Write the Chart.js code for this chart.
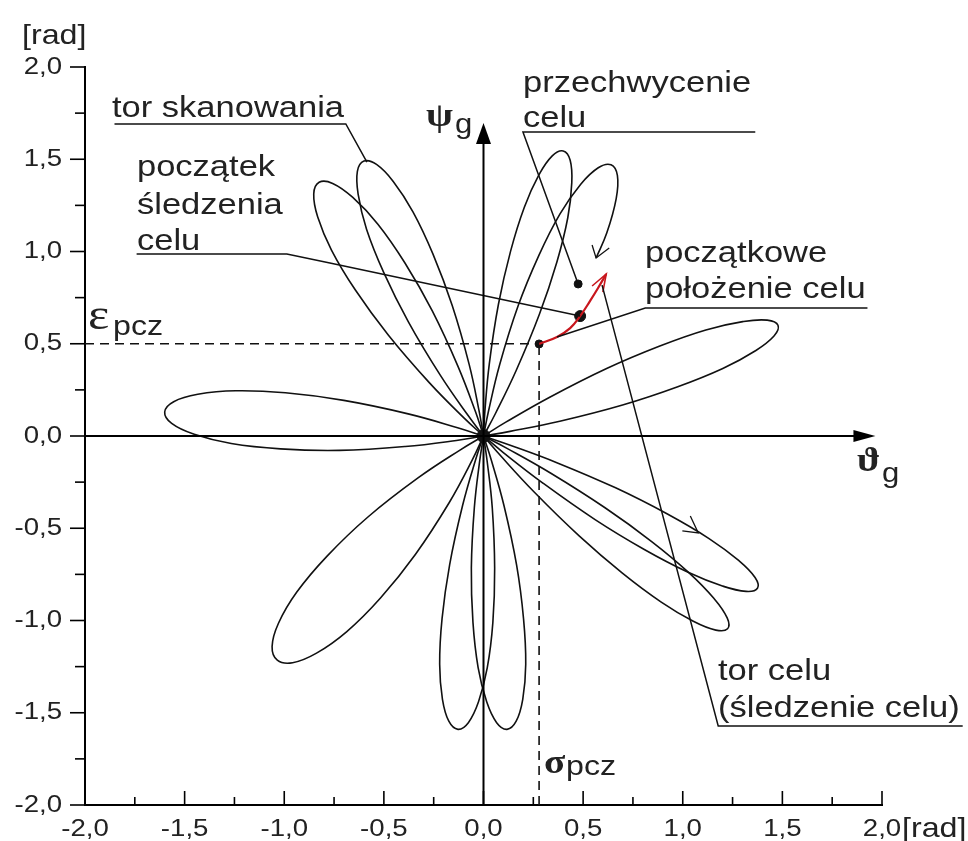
<!DOCTYPE html>
<html><head><meta charset="utf-8">
<script src="https://cdn.jsdelivr.net/npm/chart.js@4.4.1/dist/chart.umd.min.js"></script>
<style>html,body{margin:0;padding:0;background:#fff;overflow:hidden}canvas{display:block}</style>
</head><body>
<canvas id="c" width="968" height="841"></canvas>
<script>
// ---------- data (radians) ----------
const xTickLabels = ['-2,0','-1,5','-1,0','-0,5','0,0','0,5','1,0','1,5','2,0'];
const yTickLabels = ['-2,0','-1,5','-1,0','-0,5','0,0','0,5','1,0','1,5','2,0'];
const axisUnit = '[rad]';

// scanning trace (rosette petals); each loop starts and ends at the origin
const petalLeft = [[0,0],[-0.136,-0.024],[-0.393,-0.057],[-0.723,-0.078],[-1.019,-0.070],[-1.266,-0.041],[-1.452,0.009],[-1.565,0.068],[-1.600,0.130],[-1.555,0.186],[-1.434,0.226],[-1.243,0.245],[-0.994,0.234],[-0.701,0.193],[-0.378,0.120],[-0.130,0.045],[0,0]];
const petalLowerLeft = [[0,0],[-0.055,-0.127],[-0.171,-0.359],[-0.342,-0.642],[-0.517,-0.878],[-0.686,-1.060],[-0.838,-1.177],[-0.958,-1.229],[-1.035,-1.215],[-1.061,-1.141],[-1.029,-1.015],[-0.937,-0.846],[-0.785,-0.651],[-0.580,-0.439],[-0.327,-0.226],[-0.116,-0.075],[0,0]];
const petalBottomLeft = [[0,0],[0.018,-0.134],[0.044,-0.389],[0.056,-0.717],[0.047,-1.010],[0.019,-1.256],[-0.025,-1.441],[-0.076,-1.554],[-0.128,-1.590],[-0.174,-1.546],[-0.206,-1.427],[-0.220,-1.237],[-0.208,-0.990],[-0.170,-0.698],[-0.105,-0.377],[-0.040,-0.130],[0,0]];
const petalBottomRight = [[0,0],[0.039,-0.130],[0.103,-0.378],[0.166,-0.699],[0.201,-0.991],[0.212,-1.237],[0.197,-1.427],[0.164,-1.546],[0.118,-1.590],[0.066,-1.554],[0.016,-1.441],[-0.027,-1.255],[-0.053,-1.009],[-0.061,-0.716],[-0.046,-0.389],[-0.019,-0.134],[0,0]];
const petalLowerRightA = [[0,0],[0.127,-0.047],[0.365,-0.143],[0.663,-0.281],[0.923,-0.423],[1.132,-0.556],[1.282,-0.676],[1.363,-0.767],[1.375,-0.825],[1.318,-0.842],[1.199,-0.813],[1.024,-0.737],[0.807,-0.615],[0.560,-0.453],[0.298,-0.255],[0.101,-0.091],[0,0]];
const petalLowerRightB = [[0,0],[0.118,-0.067],[0.338,-0.202],[0.610,-0.389],[0.844,-0.572],[1.029,-0.739],[1.157,-0.881],[1.223,-0.986],[1.225,-1.045],[1.166,-1.052],[1.053,-1.004],[0.892,-0.900],[0.697,-0.743],[0.480,-0.541],[0.253,-0.302],[0.085,-0.106],[0,0]];
const petalRight = [[0,0],[0.112,0.075],[0.330,0.209],[0.618,0.366],[0.885,0.488],[1.116,0.575],[1.301,0.620],[1.424,0.628],[1.478,0.600],[1.458,0.542],[1.365,0.462],[1.201,0.366],[0.975,0.267],[0.698,0.168],[0.383,0.080],[0.133,0.025],[0,0]];
const petalUpperRightA = [[0,0],[0.007,0.135],[0.029,0.390],[0.075,0.714],[0.136,1.002],[0.205,1.240],[0.278,1.415],[0.345,1.518],[0.400,1.545],[0.435,1.495],[0.443,1.372],[0.423,1.183],[0.368,0.942],[0.281,0.661],[0.164,0.355],[0.060,0.122],[0,0]];
const petalUpperRightB = [[0,0],[0.025,0.134],[0.081,0.386],[0.173,0.703],[0.278,0.979],[0.384,1.204],[0.488,1.365],[0.576,1.454],[0.640,1.470],[0.672,1.412],[0.666,1.287],[0.619,1.101],[0.565,0.965]];
const petalUpperLeftA = [[0,0],[-0.097,0.097],[-0.271,0.288],[-0.477,0.546],[-0.643,0.791],[-0.763,1.008],[-0.832,1.187],[-0.852,1.312],[-0.825,1.375],[-0.757,1.369],[-0.656,1.293],[-0.530,1.148],[-0.395,0.939],[-0.257,0.678],[-0.127,0.375],[-0.040,0.131],[0,0]];
const petalUpperLeftB = [[0,0],[-0.078,0.112],[-0.217,0.330],[-0.377,0.619],[-0.501,0.887],[-0.587,1.121],[-0.629,1.309],[-0.633,1.434],[-0.600,1.490],[-0.537,1.472],[-0.453,1.380],[-0.354,1.215],[-0.254,0.987],[-0.157,0.707],[-0.072,0.388],[-0.022,0.135],[0,0]];

// direction arrows on the scanning trace
const scanArrowUpper = [[0.545,1.035],[0.565,0.965],[0.631,1.019]];
const scanArrowLower = [[1.038,-0.434],[1.078,-0.525],[0.998,-0.514]];

// target track (red) and its arrow
const targetTrack = [[0.279,0.499],[0.369,0.537],[0.435,0.585],[0.485,0.650],[0.535,0.732],[0.575,0.802],[0.616,0.878]];
const targetArrow = [[0.545,0.813],[0.616,0.878],[0.599,0.780]];

// characteristic points: initial target position, start of tracking, interception
const keyPoints = [[0.279,0.499],[0.485,0.650],[0.475,0.824]];

// initial target coordinates
const epsPcz = 0.5;
const sigmaPcz = 0.279;

// axes through the origin (arrow tips)
const psiAxisTop = 1.696;
const thetaAxisEnd = 1.967;

// leader lines of the annotations
const leaderScan = [[-1.852,1.691],[-0.691,1.691],[-0.585,1.485]];
const leaderTrackStart = [[-1.741,0.986],[-0.987,0.986],[-0.771,0.938],[0.485,0.650]];
const leaderIntercept = [[1.364,1.648],[0.198,1.648],[0.475,0.824]];
const leaderInitial = [[1.927,0.694],[0.812,0.694],[0.369,0.537]];
const leaderTargetPath = [[2.405,-1.572],[1.178,-1.572],[0.595,0.818]];

const noteTexts = ['tor skanowania','początek','śledzenia','celu','przechwycenie','celu','początkowe','położenie celu','tor celu','(śledzenie celu)'];
const symbolTexts = ['ψ','g','ε','pcz','σ','pcz','ϑ','g'];

// ---------- chart ----------
const SX = 1.15; // horizontal stretch of the lettering in the reference
const toXY = a => a.map(([x,y]) => ({x, y}));
function line(arr, extra){
  return Object.assign({data: toXY(arr), showLine: true, pointRadius: 0, pointHoverRadius: 0,
    borderColor: '#111', borderWidth: 1.6, tension: 0, fill: false, clip: false}, extra || {});
}
const petals = [petalLeft, petalLowerLeft, petalBottomLeft, petalBottomRight, petalLowerRightA,
  petalLowerRightB, petalRight, petalUpperRightA, petalUpperRightB, petalUpperLeftA, petalUpperLeftB];

const datasets = [];
datasets.push(line([[0,-2],[0,psiAxisTop - 0.05]], {borderWidth: 2, borderColor: '#000'}));
datasets.push(line([[-2,0],[thetaAxisEnd - 0.05,0]], {borderWidth: 2, borderColor: '#000'}));
datasets.push(line([[-2,epsPcz],[sigmaPcz,epsPcz]], {borderDash: [9,6], borderWidth: 1.6}));
datasets.push(line([[sigmaPcz,-2],[sigmaPcz,epsPcz]], {borderDash: [9,6], borderWidth: 1.6}));
petals.forEach(p => datasets.push(line(p, {tension: 0.4})));
datasets.push(line(scanArrowUpper, {borderWidth: 1.3}));
datasets.push(line(scanArrowLower, {borderWidth: 1.3}));
[leaderScan, leaderTrackStart, leaderIntercept, leaderInitial, leaderTargetPath].forEach(l =>
  datasets.push(line(l, {borderWidth: 1.5})));
datasets.push(line(targetTrack, {borderColor: '#c8161d', borderWidth: 2.2, tension: 0.4}));
datasets.push(line(targetArrow, {borderColor: '#c8161d', borderWidth: 1.6}));
datasets.push({data: toXY(keyPoints), showLine: false, pointRadius: [4, 5.5, 4], pointStyle: 'circle',
  pointBackgroundColor: '#111', pointBorderColor: '#111', clip: false});
datasets.push({data: toXY([[0,0]]), showLine: false, pointRadius: 6.5, pointBackgroundColor: '#111', pointBorderColor: '#111'});

function tickLabel(v, labels){
  const i = (v + 2) / 0.5;
  return Math.abs(i - Math.round(i)) < 1e-6 ? labels[Math.round(i)] : '';
}

const stretchText = {
  id: 'stretchText',
  beforeInit(chart){
    const c = chart.ctx, f = c.fillText;
    c.fillText = function(t, x, y, w){
      this.save(); this.translate(x, y); this.scale(SX, 1);
      if (w === undefined) f.call(this, t, 0, 0); else f.call(this, t, 0, 0, w / SX);
      this.restore();
    };
  }
};

const deco = {
  id: 'deco',
  afterDraw(chart){
    const {ctx, chartArea: a, scales: {x, y}} = chart;
    ctx.save();
    ctx.strokeStyle = '#000'; ctx.fillStyle = '#000'; ctx.lineWidth = 1.6;
    // x ticks (inside), y ticks (outside)
    x.ticks.forEach(t => {
      const px = x.getPixelForValue(t.value);
      const major = tickLabel(t.value, xTickLabels) !== '';
      ctx.beginPath(); ctx.moveTo(px, a.bottom); ctx.lineTo(px, a.bottom - (major ? 14 : 8)); ctx.stroke();
    });
    y.ticks.forEach(t => {
      const py = y.getPixelForValue(t.value);
      const major = tickLabel(t.value, yTickLabels) !== '';
      ctx.beginPath(); ctx.moveTo(a.left, py); ctx.lineTo(a.left - (major ? 15 : 10), py); ctx.stroke();
    });
    // arrow heads of the axes
    const ox = x.getPixelForValue(0), oy = y.getPixelForValue(0);
    const ty = y.getPixelForValue(psiAxisTop);
    ctx.beginPath(); ctx.moveTo(ox, ty); ctx.lineTo(ox - 7.5, ty + 21); ctx.lineTo(ox + 7.5, ty + 21); ctx.closePath(); ctx.fill();
    const tx = x.getPixelForValue(thetaAxisEnd);
    ctx.beginPath(); ctx.moveTo(tx, oy); ctx.lineTo(tx - 22, oy - 6); ctx.lineTo(tx - 22, oy + 6); ctx.closePath(); ctx.fill();

    // annotation texts
    ctx.fillStyle = '#222'; ctx.textBaseline = 'alphabetic'; ctx.textAlign = 'left';
    const sans = s => s + "px 'Liberation Sans', Arial, sans-serif";
    const serif = (s, b) => (b ? "bold " : "") + s + "px 'Liberation Serif', 'DejaVu Serif', serif";
    const pos = [[112,117],[137,176],[137,214],[137,250],[523,92],[523,127],[645,262],[645,298],[718,680],[718,717]];
    ctx.font = sans(30);
    noteTexts.forEach((t, i) => ctx.fillText(t, pos[i][0], pos[i][1]));
    // units
    ctx.font = sans(28);
    ctx.fillText(axisUnit, 22, 44);
    ctx.fillText(axisUnit, 902, 837);
    // symbols
    const sym = [[serif(34,true),426,126],[sans(27),455,133],[serif(44,false),88,329],[sans(28),113,335],
                 [serif(34,true),544,773],[sans(28),566,775],[serif(34,true),857,471],[sans(27),882,482]];
    symbolTexts.forEach((t, i) => { ctx.font = sym[i][0]; ctx.fillText(t, sym[i][1], sym[i][2]); });
    ctx.restore();
  }
};

Chart.defaults.font.family = "'Liberation Sans', Arial, sans-serif";
new Chart(document.getElementById('c'), {
  type: 'scatter',
  data: {datasets},
  plugins: [stretchText, deco],
  options: {
    responsive: false, animation: false, devicePixelRatio: 1,
    layout: {padding: {left: 0, right: 86, top: 67, bottom: 0}},
    plugins: {legend: {display: false}, tooltip: {enabled: false}},
    events: [],
    scales: {
      x: {type: 'linear', position: 'bottom', min: -2, max: 2,
        afterFit(s){ s.height = 36; s.paddingLeft = 0; s.paddingRight = 0; },
        grid: {display: false, drawTicks: false},
        border: {display: true, color: '#000', width: 2},
        ticks: {stepSize: 0.25, autoSkip: false, maxRotation: 0, padding: 10, color: '#222',
          font: {size: 24}, callback: v => tickLabel(v, xTickLabels)}},
      y: {type: 'linear', position: 'left', min: -2, max: 2,
        afterFit(s){ s.width = 85; s.paddingTop = 0; s.paddingBottom = 0; },
        grid: {display: false, drawTicks: false},
        border: {display: true, color: '#000', width: 2},
        ticks: {stepSize: 0.25, autoSkip: false, padding: 23, color: '#222',
          font: {size: 24}, callback: v => tickLabel(v, yTickLabels)}}
    }
  }
});
</script>
</body></html>
